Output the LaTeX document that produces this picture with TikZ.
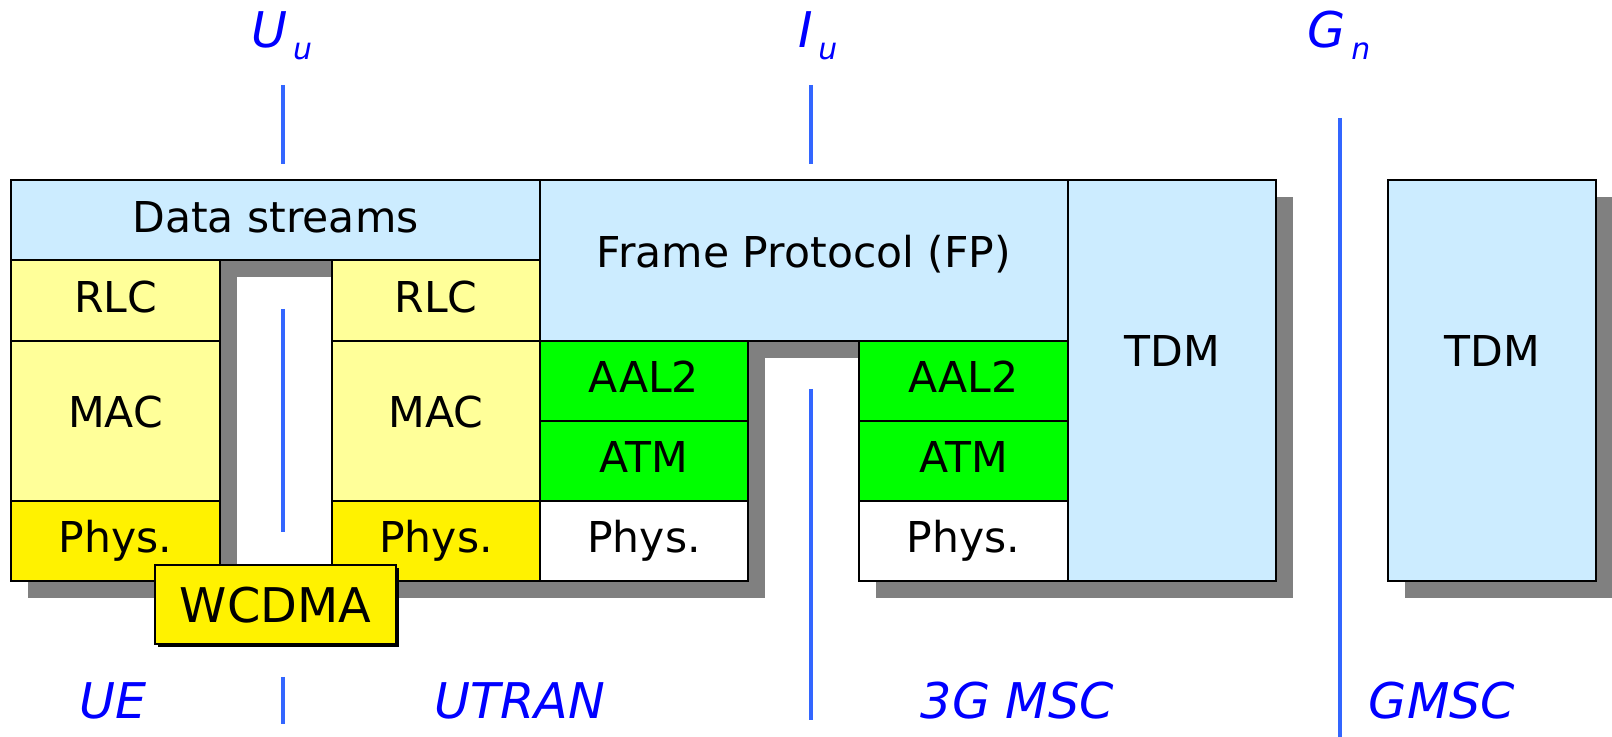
\documentclass[tikz,border=0pt]{standalone}
\usepackage{fontspec}
\setmainfont{DejaVu Sans}
\definecolor{paleblue}{RGB}{204,236,255}
\definecolor{paleyellow}{RGB}{255,255,153}
\definecolor{ifline}{RGB}{51,102,255}
\newcommand{\lowsub}[1]{\kern1.5pt\raisebox{-3.3pt}{\fontsize{8.5}{10}\selectfont #1}}

\begin{document}
\begin{tikzpicture}[
		layer/.style={draw=black, line width=0.7pt},
		txt/.style={anchor=base, inner sep=0pt, font=\fontsize{12.1}{14}\selectfont},
		where/.style={anchor=base, inner sep=0pt, text=blue, font=\fontsize{14}{16}\selectfont\itshape},
		iface/.style={draw=ifline, line width=1.1pt}]
		\useasboundingbox (0,0) rectangle (16.12,7.37);
		% drop shadows
		\foreach \xa/\ya/\xb/\yb in {0.11/5.57/12.76/4.77, 0.11/4.77/2.20/1.56, 3.32/4.77/5.40/1.56,
				5.40/4.77/10.68/3.96, 5.40/3.96/7.48/1.56, 8.59/3.96/10.68/1.56,
				10.68/5.57/12.76/1.56, 13.88/5.57/15.96/1.56}
			\fill[gray] (\xa+0.17,\ya-0.17) rectangle (\xb+0.17,\yb-0.17);
		% UE and UTRAN radio side
		\draw[layer, fill=paleblue] (0.11,5.57) rectangle (5.40,4.77);
		\node[txt] (ds) at (2.755,5.04) {Data streams};
		\draw[layer, fill=paleyellow] (0.11,4.77) rectangle (2.20,3.96);
		\node[txt] (rlcA) at (1.155,4.24) {RLC};
		\draw[layer, fill=paleyellow] (0.11,3.96) rectangle (2.20,2.36);
		\node[txt] (macA) at (1.155,3.09) {MAC};
		\draw[layer, fill=yellow] (0.11,2.36) rectangle (2.20,1.56);
		\node[txt] (phyA) at (1.155,1.84) {Phys.};
		\draw[layer, fill=paleyellow] (3.32,4.77) rectangle (5.40,3.96);
		\node[txt] (rlcB) at (4.36,4.24) {RLC};
		\draw[layer, fill=paleyellow] (3.32,3.96) rectangle (5.40,2.36);
		\node[txt] (macB) at (4.36,3.09) {MAC};
		\draw[layer, fill=yellow] (3.32,2.36) rectangle (5.40,1.56);
		\node[txt] (phyB) at (4.36,1.84) {Phys.};
		% Iu side
		\draw[layer, fill=paleblue] (5.40,5.57) rectangle (10.68,3.96);
		\node[txt] (fp) at (8.04,4.69) {Frame Protocol (FP)};
		\draw[layer, fill=green] (5.40,3.96) rectangle (7.48,3.16);
		\node[txt] (aalA) at (6.44,3.44) {AAL2};
		\draw[layer, fill=green] (5.40,3.16) rectangle (7.48,2.36);
		\node[txt] (atmA) at (6.44,2.64) {ATM};
		\draw[layer, fill=white] (5.40,2.36) rectangle (7.48,1.56);
		\node[txt] (phyC) at (6.44,1.84) {Phys.};
		\draw[layer, fill=green] (8.59,3.96) rectangle (10.68,3.16);
		\node[txt] (aalB) at (9.635,3.44) {AAL2};
		\draw[layer, fill=green] (8.59,3.16) rectangle (10.68,2.36);
		\node[txt] (atmB) at (9.635,2.64) {ATM};
		\draw[layer, fill=white] (8.59,2.36) rectangle (10.68,1.56);
		\node[txt] (phyD) at (9.635,1.84) {Phys.};
		\draw[layer, fill=paleblue] (10.68,5.57) rectangle (12.76,1.56);
		\node[txt] (tdmA) at (11.72,3.70) {TDM};
		\draw[layer, fill=paleblue] (13.88,5.57) rectangle (15.96,1.56);
		\node[txt] (tdmB) at (14.92,3.70) {TDM};
		% air interface box
		\fill[black] (1.58,1.69) rectangle (3.99,0.90);
		\draw[layer, fill=yellow] (1.55,1.72) rectangle (3.96,0.93);
		\node[txt, font=\fontsize{13.6}{16}\selectfont] (wcdma) at (2.755,1.14) {WCDMA};
		% interfaces
		\draw[iface] (2.83,6.52) -- (2.83,5.73);
		\draw[iface] (2.83,4.28) -- (2.83,2.05);
		\draw[iface] (2.83,0.60) -- (2.83,0.13);
		\draw[iface] (8.11,6.52) -- (8.11,5.73);
		\draw[iface] (8.11,3.48) -- (8.11,0.17);
		\draw[iface] (13.40,6.19) -- (13.40,0);
		\node[where] (uu) at (2.82,6.89) {U\lowsub{u}};
		\node[where] (iu) at (8.18,6.89) {I\lowsub{u}};
		\node[where] (gn) at (13.39,6.89) {G\lowsub{n}};
		\node[where] (ue) at (1.13,0.18) {UE};
		\node[where] (utran) at (5.195,0.18) {UTRAN};
		\node[where] (msc) at (10.175,0.18) {3G MSC};
		\node[where] (gmsc) at (14.42,0.18) {GMSC};
	\end{tikzpicture}
\end{document}
